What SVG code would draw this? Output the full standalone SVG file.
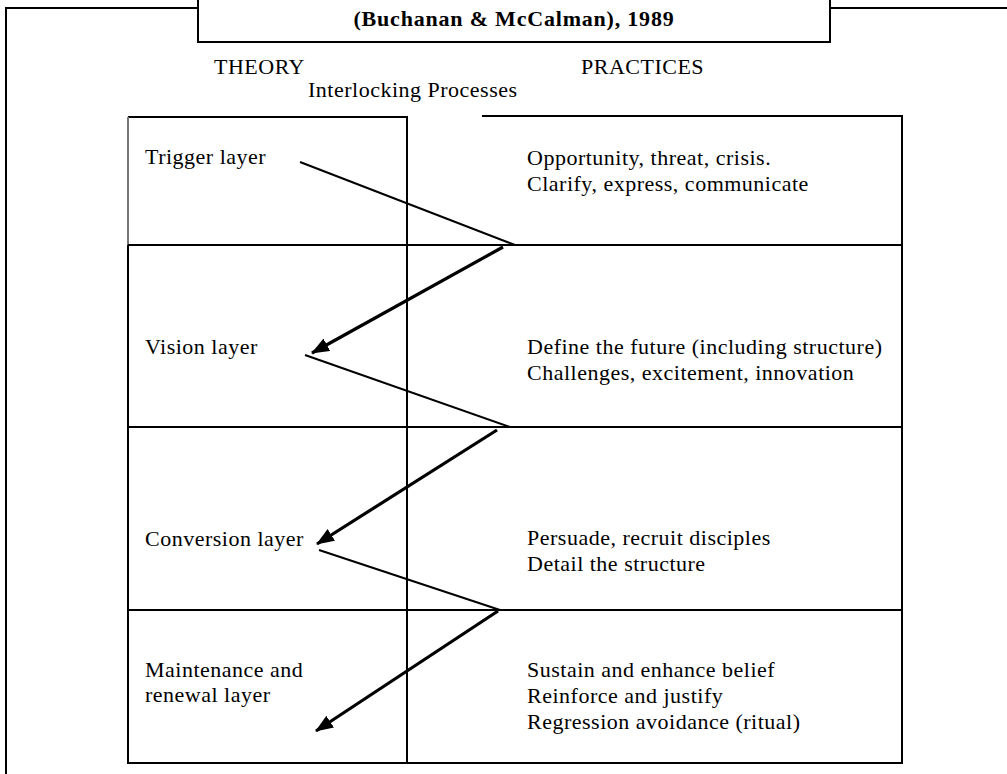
<svg xmlns="http://www.w3.org/2000/svg" width="1007" height="774" viewBox="0 0 1007 774">
  <style>
    .t { font-family: "Liberation Serif", "Times New Roman", serif; font-size: 22px; letter-spacing: 0.5px; fill: #000; }
    .title { font-family: "Liberation Serif", "Times New Roman", serif; font-size: 22px; font-weight: bold; letter-spacing: 0.8px; fill: #000; }
    .frame { fill: none; stroke: #000; stroke-width: 2; }
    .grid { fill: none; stroke: #000; stroke-width: 2; }
    .thin { fill: none; stroke: #000; stroke-width: 2; }
    .thick { fill: none; stroke: #000; stroke-width: 3.2; marker-end: url(#ah); }
  </style>
  <defs>
    <marker id="ah" viewBox="0 0 18 14" refX="17" refY="7" markerWidth="18" markerHeight="14" markerUnits="userSpaceOnUse" orient="auto">
      <path d="M0,0 L18,7 L0,14 z" fill="#000"/>
    </marker>
  </defs>
  <rect width="1007" height="774" fill="#fff"/>

  <g id="frame">
    <path class="frame" d="M6,774 L6,8 L198,8"/>
    <path class="frame" d="M830,8 L1007,8"/>
  </g>

  <g id="title">
    <path class="frame" d="M198,0 L198,42 L830,42 L830,0"/>
    <text class="title" x="514" y="26" text-anchor="middle">(Buchanan &amp; McCalman), 1989</text>
  </g>

  <g id="headers">
    <text class="t" x="214" y="74">THEORY</text>
    <text class="t" x="581" y="74">PRACTICES</text>
    <text class="t" x="308" y="97">Interlocking Processes</text>
  </g>

  <g id="table">
    <path class="grid" d="M128,117 L408,117"/>
    <path class="grid" d="M482,116 L902,116 L902,763 L128,763 L128,245"/>
    <path d="M128,117 L128,245" fill="none" stroke="#777" stroke-width="2"/>
    <path class="grid" d="M407,117 L407,763"/>
    <path class="grid" d="M128,245 L902,245"/>
    <path class="grid" d="M128,427 L902,427"/>
    <path class="grid" d="M128,610 L902,610"/>
  </g>

  <g id="trigger">
    <text class="t" x="145" y="164">Trigger layer</text>
    <text class="t" x="527" y="165">Opportunity, threat, crisis.</text>
    <text class="t" x="527" y="191">Clarify, express, communicate</text>
  </g>

  <g id="vision">
    <text class="t" x="145" y="354">Vision layer</text>
    <text class="t" x="527" y="354">Define the future (including structure)</text>
    <text class="t" x="527" y="380">Challenges, excitement, innovation</text>
  </g>

  <g id="conversion">
    <text class="t" x="145" y="546">Conversion layer</text>
    <text class="t" x="527" y="545">Persuade, recruit disciples</text>
    <text class="t" x="527" y="571">Detail the structure</text>
  </g>

  <g id="maintenance">
    <text class="t" x="145" y="677">Maintenance and</text>
    <text class="t" x="145" y="702">renewal layer</text>
    <text class="t" x="527" y="677">Sustain and enhance belief</text>
    <text class="t" x="527" y="703">Reinforce and justify</text>
    <text class="t" x="527" y="729">Regression avoidance (ritual)</text>
  </g>

  <g id="connectors">
    <path class="thin" d="M300,162 L515,245"/>
    <path class="thick" d="M503,247 L312,353"/>
    <path class="thin" d="M305,355 L510,427"/>
    <path class="thick" d="M497,430 L317,544"/>
    <path class="thin" d="M319,550 L500,610"/>
    <path class="thick" d="M498,611 L316,731"/>
  </g>
</svg>
